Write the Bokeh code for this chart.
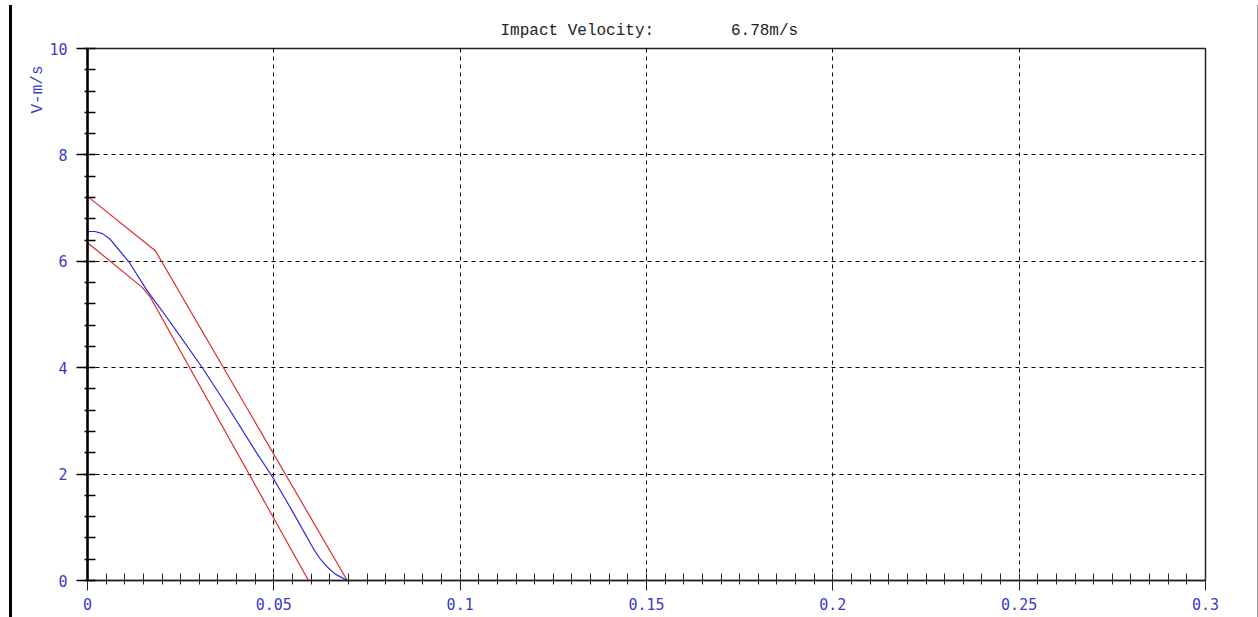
from bokeh.plotting import figure
from bokeh.models import Range1d, FixedTicker, Title, Div, Spacer
from bokeh.layouts import row, column
from bokeh.embed import file_html
from bokeh.resources import INLINE

# ---- data ----
x_ticks = [0, 0.05, 0.1, 0.15, 0.2, 0.25, 0.3]
x_tick_labels = ["0", "0.05", "0.1", "0.15", "0.2", "0.25", "0.3"]
y_ticks = [0, 2, 4, 6, 8, 10]
y_tick_labels = ["0", "2", "4", "6", "8", "10"]

blue_x = [0, 0.002, 0.004, 0.006, 0.008, 0.011, 0.016, 0.02, 0.025, 0.031, 0.0375, 0.045, 0.0496, 0.055, 0.0606, 0.0625, 0.0644, 0.0665, 0.0697]
blue_y = [6.56, 6.56, 6.52, 6.42, 6.25, 6.0, 5.45, 5.07, 4.58, 3.98, 3.28, 2.44, 1.95, 1.3, 0.6, 0.4, 0.25, 0.12, 0.0]

upper_x = [0, 0.0182, 0.0697]
upper_y = [7.22, 6.2, 0.0]

lower_x = [0, 0.0147, 0.0169, 0.0593]
lower_y = [6.35, 5.51, 5.32, 0.0]

title_text = "Impact Velocity:"
velocity_text = "6.78m/s"
y_label_text = "V-m/s"

TICK_BLUE = "#3a3ac8"

p = figure(width=1244, height=617, output_backend="svg", toolbar_location=None,
           x_range=Range1d(0, 0.3), y_range=Range1d(0, 10),
           min_border_left=75, min_border_right=51, min_border_top=48, min_border_bottom=37,
           background_fill_color="white", border_fill_color="white")

p.outline_line_color = "#222222"
p.outline_line_width = 1.5

# header text (single title, gap kept with non-breaking spaces)
p.add_layout(Title(text=title_text + "\u00a0" * 8 + velocity_text, align="left",
                   offset=413, standoff=18, text_font="Liberation Mono",
                   text_font_size="16px", text_font_style="normal", text_color="#222222"),
             "above")

# y axis label at the top end of the axis
p.add_layout(Title(text=y_label_text, align="right", offset=17, standoff=0,
                   text_font="Liberation Mono", text_font_size="16px",
                   text_font_style="normal", text_color=TICK_BLUE),
             "left")

# axes
xa = p.xaxis[0]
xa.ticker = FixedTicker(ticks=x_ticks, minor_ticks=[round(i * 0.005, 4) for i in range(61)])
xa.major_label_overrides = {t: l for t, l in zip(x_ticks, x_tick_labels)}
xa.axis_line_color = "#222222"
xa.axis_line_width = 1.5
xa.major_tick_line_color = "#222222"
xa.major_tick_in = 0
xa.major_tick_out = 10
xa.minor_tick_line_color = "#222222"
xa.minor_tick_in = 7
xa.minor_tick_out = 4
xa.major_label_text_color = TICK_BLUE
xa.major_label_text_font = "DejaVu Sans Mono"
xa.major_label_text_font_size = "15px"
xa.major_label_standoff = 7

ya = p.yaxis[0]
ya.ticker = FixedTicker(ticks=y_ticks, minor_ticks=[round(i * 0.4, 2) for i in range(26)])
ya.major_label_overrides = {t: l for t, l in zip(y_ticks, y_tick_labels)}
ya.axis_line_color = "black"
ya.axis_line_width = 2.5
ya.major_tick_line_color = "black"
ya.major_tick_line_width = 1.5
ya.major_tick_in = 0
ya.major_tick_out = 11
ya.minor_tick_line_color = "black"
ya.minor_tick_line_width = 1.5
ya.minor_tick_in = 8
ya.minor_tick_out = 3
ya.major_label_text_color = TICK_BLUE
ya.major_label_text_font = "DejaVu Sans Mono"
ya.major_label_text_font_size = "15px"
ya.major_label_standoff = 9

# grid
p.xgrid.ticker = FixedTicker(ticks=x_ticks[1:-1])
p.ygrid.ticker = FixedTicker(ticks=y_ticks[1:-1])
for g in (p.xgrid[0], p.ygrid[0]):
    g.grid_line_color = "black"
    g.grid_line_dash = "4 4"
    g.grid_line_width = 1

# curves
p.line(upper_x, upper_y, line_color="#dd2b2b", line_width=1.2)
p.line(lower_x, lower_y, line_color="#dd2b2b", line_width=1.2)
p.line(blue_x, blue_y, line_color="#2b2bd6", line_width=1.2)

# window edge decorations (thick black bar at left, thin grey line at right)
left_bar = column(Spacer(width=3, height=5),
                  Div(width=3, height=612, margin=0, styles={"background-color": "black"}))
right_bar = column(Spacer(width=1, height=5),
                   Div(width=1, height=612, margin=0, styles={"background-color": "#999999"}))
layout = row(Spacer(width=9, height=617), left_bar, p, Spacer(width=1, height=617), right_bar)

open("out.html", "w").write(file_html(layout, INLINE))
